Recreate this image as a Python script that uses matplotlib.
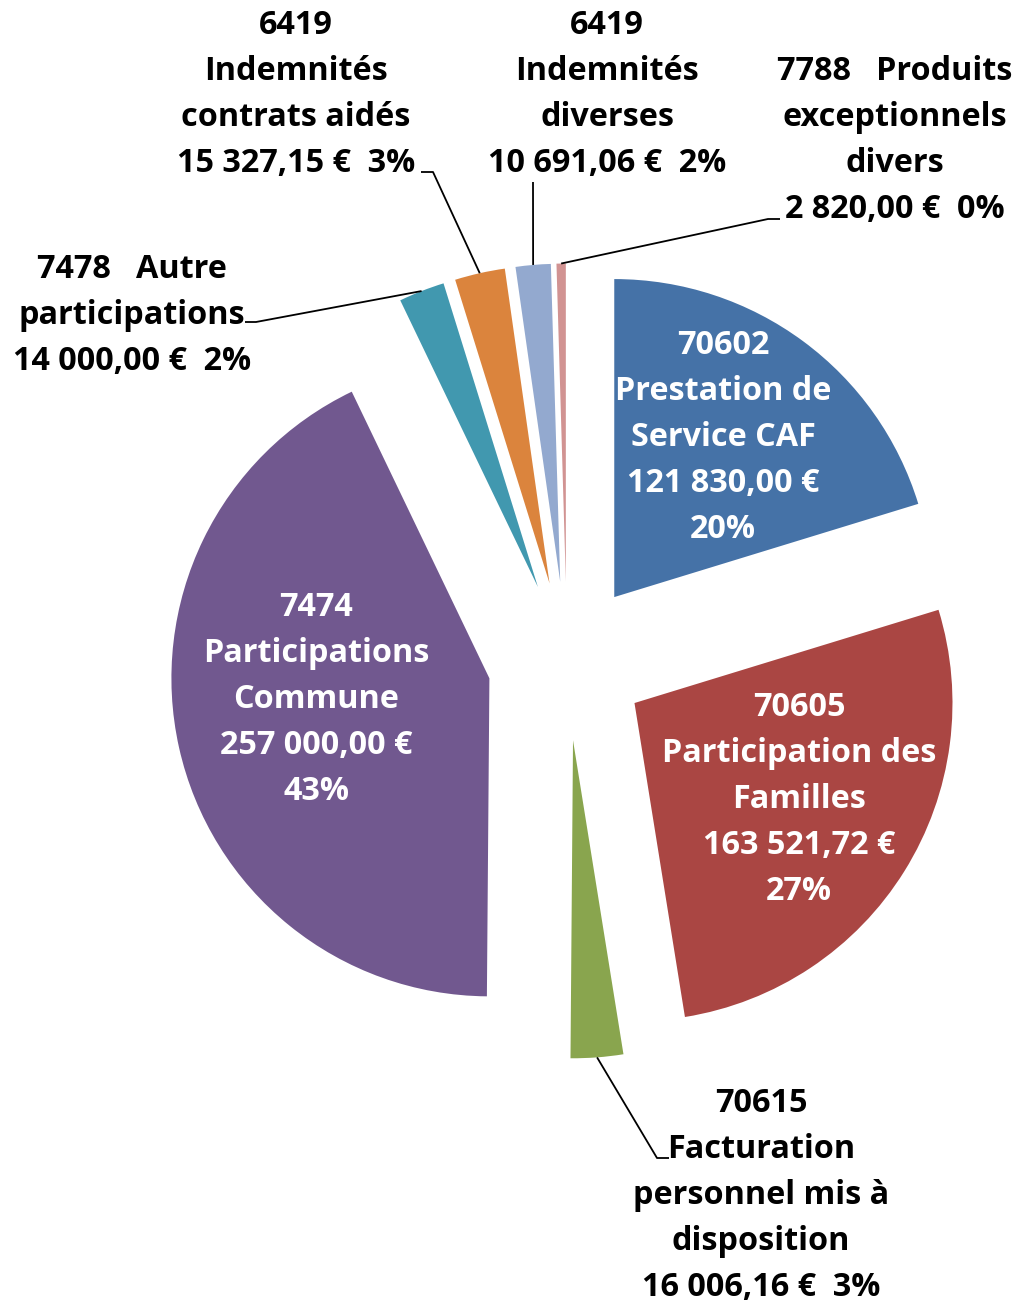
import matplotlib
matplotlib.use("Agg")
import matplotlib.pyplot as plt
import numpy as np

codes = ["70602", "70605", "70615", "7474", "7478", "6419", "6419", "7788"]
names = ["Prestation de\nService CAF", "Participation des\nFamilles",
         "Facturation\npersonnel mis à\ndisposition", "Participations\nCommune",
         "Autre\nparticipations", "Indemnités\ncontrats aidés",
         "Indemnités\ndiverses", "Produits\nexceptionnels\ndivers"]
values = [121830.00, 163521.72, 16006.16, 257000.00, 14000.00, 15327.15, 10691.06, 2820.00]
colors = ["#4572A7", "#AA4643", "#89A54E", "#71588F", "#4198AF", "#DB843D", "#93A9CF", "#D19392"]

W, H = 1014, 1303
fig = plt.figure(figsize=(W / 100, H / 100), dpi=100)
ax = fig.add_axes([0, 0, 1, 1])
ax.set_xlim(0, W)
ax.set_ylim(0, H)
ax.set_aspect("equal")
ax.axis("off")

cx, cy, R = 567, H - 661, 318
explode_frac = 0.25
wedges, _ = ax.pie(values, colors=colors, startangle=90, counterclock=False,
                   explode=[explode_frac * R] * len(values), center=(cx, cy), radius=R,
                   wedgeprops=dict(linewidth=0))
ax.set_xlim(0, W)
ax.set_ylim(0, H)

total = sum(values)


def fmt_money(v):
    s = f"{v:,.2f}".replace(",", " ").replace(".", ",")
    return s + " €"


def pct(v):
    return f"{round(100 * v / total)}%"


font = dict(family=["Open Sans", "DejaVu Sans"], weight="bold", fontsize=23.3)
ls = 1.52

# inside labels (pixel centers from top)
inside = {0: (723, 438), 1: (799, 799), 3: (316, 699)}
for i, (x, y) in inside.items():
    txt = f"{codes[i]}\n{names[i]}\n{fmt_money(values[i])}\n{pct(values[i])}"
    ax.text(x, H - y, txt, ha="center", va="center", multialignment="center",
            color="white", linespacing=ls, **font)

# outside labels
outside_txt = {
    2: f"{codes[2]}\n{names[2]}\n{fmt_money(values[2])}  {pct(values[2])}",
    4: f"{codes[4]}   Autre\nparticipations\n{fmt_money(values[4])}  {pct(values[4])}",
    5: f"{codes[5]}\n{names[5]}\n{fmt_money(values[5])}  {pct(values[5])}",
    6: f"{codes[6]}\n{names[6]}\n{fmt_money(values[6])}  {pct(values[6])}",
    7: f"{codes[7]}   Produits\nexceptionnels\ndivers\n{fmt_money(values[7])}  {pct(values[7])}",
}
outside_pos = {2: (761, 1196), 4: (132, 316), 5: (296, 95), 6: (607, 95), 7: (895, 141)}
# leader line bends (pixel from top): elbow point and end point
leader = {2: [(657, 1158), (669, 1158)],
          4: [(256, 322), (245, 322)],
          5: [(433, 172), (421, 172)],
          6: [(533, 182)],
          7: [(768, 219), (780, 219)]}

cum = np.cumsum([0] + values[:-1])
for i, txt in outside_txt.items():
    x, y = outside_pos[i]
    ax.text(x, H - y, txt, ha="center", va="center", multialignment="center",
            color="black", linespacing=ls, **font)
    frac_mid = (cum[i] + values[i] / 2) / total
    ang = np.deg2rad(90 - 360 * frac_mid)
    r0 = R * (1 + explode_frac)
    sx, sy = cx + r0 * np.cos(ang), cy + r0 * np.sin(ang)
    pts = [(sx, sy)] + [(px, H - py) for px, py in leader[i]]
    xs, ys = zip(*pts)
    ax.plot(xs, ys, color="black", lw=1.3, solid_capstyle="butt")

fig.savefig("out.png", dpi=100, facecolor="white")
